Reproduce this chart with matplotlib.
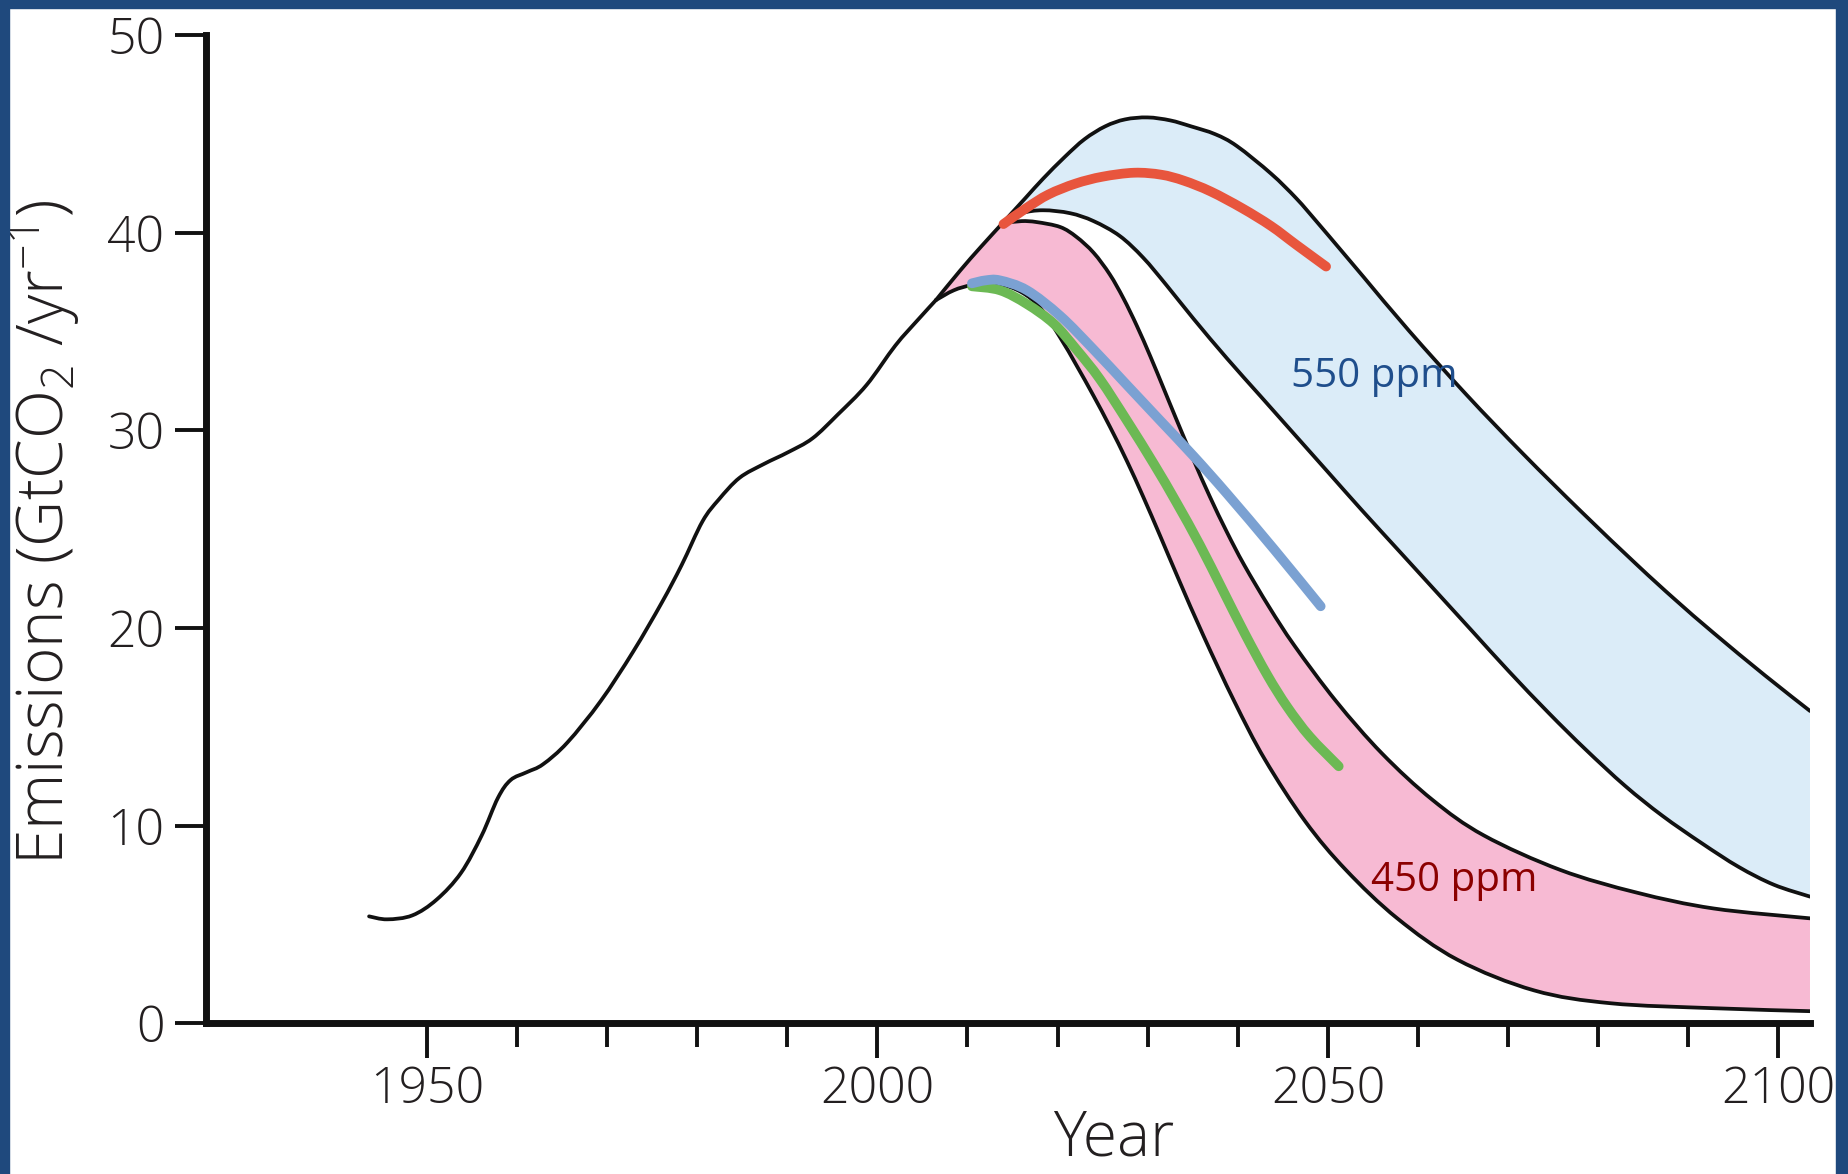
import numpy as np
import matplotlib
matplotlib.use("Agg")
import matplotlib.pyplot as plt
from matplotlib.patches import Rectangle, PathPatch
from matplotlib.path import Path
from matplotlib.ticker import FixedLocator

plt.rcParams['font.family'] = ['Open Sans', 'DejaVu Sans']
plt.rcParams['mathtext.fontset'] = 'custom'
plt.rcParams['mathtext.rm'] = 'Open Sans'
plt.rcParams['mathtext.it'] = 'Open Sans'
plt.rcParams['mathtext.default'] = 'regular'

# historical emissions
hist_year = [1943.6, 1945.6, 1948.4, 1951.1, 1953.8, 1956.1, 1957.9, 1959.3, 1961.1, 1962.9,
             1965.6, 1969.3, 1972.9, 1976.1, 1978.3, 1980.6, 1982.4, 1984.7, 1987.4, 1990.1,
             1992.8, 1995.6, 1998.8, 2002.0, 2004.5, 2006.5]
hist_val = [5.4, 5.25, 5.45, 6.25, 7.6, 9.5, 11.4, 12.3, 12.7, 13.1,
            14.2, 16.3, 18.8, 21.3, 23.2, 25.4, 26.5, 27.6, 28.3, 28.9,
            29.6, 30.8, 32.3, 34.3, 35.6, 36.6]

# 550 ppm band
up550_year = [2006.5, 2009.2, 2011.5, 2014, 2016.5, 2018.4, 2020.8, 2023, 2025.3, 2027.5,
              2030, 2032.5, 2034.8, 2037.5, 2039.9, 2043.7, 2046.5, 2048.8, 2051.5, 2054,
              2059, 2065.4, 2071.7, 2078.1, 2084.3, 2088.5, 2092.8, 2098.5, 2103.5]
up550_val = [36.6, 38.1, 39.3, 40.55, 41.8, 42.75, 43.85, 44.75, 45.4, 45.75,
             45.85, 45.7, 45.4, 45.0, 44.4, 43.0, 41.75, 40.55, 39.1, 37.75,
             35.05, 31.8, 28.8, 25.9, 23.2, 21.45, 19.75, 17.6, 15.8]
lo550_year = [2014, 2016, 2018.4, 2021.4, 2024, 2026.9, 2029.5, 2032.1, 2035.1, 2038.8,
              2042.5, 2046.2, 2050, 2053.7, 2058, 2061.6, 2066, 2070.1, 2074.5, 2078.6,
              2083, 2087.1, 2091.5, 2095.6, 2099.5, 2103.5]
lo550_val = [40.55, 41.0, 41.15, 41.0, 40.6, 39.85, 38.75, 37.35, 35.65, 33.65,
             31.75, 29.85, 27.9, 26.0, 23.85, 22.05, 19.85, 17.8, 15.7, 13.85,
             12.0, 10.5, 9.1, 7.9, 7.0, 6.4]

# 450 ppm band
up450_year = [2014, 2016, 2017.7, 2020.3, 2022.1, 2024, 2025.8, 2027.3, 2028.8, 2030.3,
              2031.8, 2033.2, 2035.1, 2036.9, 2038.8, 2040.7, 2043.5, 2046.3, 2050.9, 2056,
              2061.6, 2067.3, 2075.8, 2084.3, 2092.8, 2103.5]
up450_val = [40.5, 40.6, 40.55, 40.3, 39.8, 39.0, 37.9, 36.7, 35.3, 33.75,
             32.1, 30.55, 28.5, 26.65, 24.85, 23.2, 21.05, 19.1, 16.3, 13.65,
             11.3, 9.5, 7.75, 6.6, 5.8, 5.3]
lo450_year = [2006.5, 2008.5, 2010.5, 2013.5, 2016, 2018.1, 2020.3, 2022.1, 2024, 2025.8,
              2027.7, 2029.5, 2031.4, 2033.5, 2036.2, 2039.6, 2043, 2047.5, 2052, 2057.7,
              2064.4, 2072.9, 2081.4, 2092.8, 2103.5]
lo450_val = [36.6, 37.1, 37.35, 37.4, 37.0, 36.2, 34.7, 33.3, 31.75, 30.2,
             28.45, 26.65, 24.65, 22.4, 19.6, 16.3, 13.35, 10.2, 7.75, 5.3,
             3.2, 1.65, 1.0, 0.75, 0.6]

# pathway lines
red_year = [2014, 2016.5, 2019, 2022, 2025, 2028.5, 2031.5, 2034, 2037, 2040.5, 2043.7, 2046.5, 2049.8]
red_val = [40.45, 41.25, 41.95, 42.5, 42.85, 43.05, 42.95, 42.65, 42.1, 41.25, 40.35, 39.4, 38.3]
blue_year = [2010.5, 2012, 2013.6, 2016.6, 2020.3, 2024, 2027.7, 2031.4, 2035.1, 2038.8, 2044, 2049.2]
blue_val = [37.45, 37.6, 37.6, 37.1, 35.8, 34.1, 32.3, 30.5, 28.7, 26.8, 24.0, 21.1]
green_year = [2010.5, 2013.6, 2016.6, 2019.6, 2022.1, 2024.7, 2027.7, 2030.7, 2033.2, 2035.8,
              2038.3, 2040.8, 2043.3, 2045.5, 2048, 2051.2]
green_val = [37.3, 37.1, 36.4, 35.4, 34.1, 32.6, 30.5, 28.3, 26.35, 24.2,
             21.95, 19.7, 17.6, 16.0, 14.5, 13.0]

xticks_major = [1950, 2000, 2050, 2100]
xticks_minor = [1960, 1970, 1980, 1990, 2010, 2020, 2030, 2040, 2060, 2070, 2080, 2090]
yticks = [0, 10, 20, 30, 40, 50]


def bez(xs, ys):
    # smooth curve through the given points (Catmull-Rom as Bezier pieces)
    p = np.column_stack([xs, ys]).astype(float)
    verts = [p[0]]
    for i in range(len(p) - 1):
        a = p[i - 1] if i > 0 else p[i]
        d = p[i + 2] if i + 2 < len(p) else p[i + 1]
        verts += [p[i] + (p[i + 1] - a) / 6, p[i + 1] - (d - p[i]) / 6, p[i + 1]]
    return verts


def curve(ax, xs, ys, **kw):
    v = bez(xs, ys)
    codes = [Path.MOVETO] + [Path.CURVE4] * (len(v) - 1)
    ax.add_patch(PathPatch(Path(v, codes), fill=False, **kw))


def band(ax, pieces, **kw):
    verts, codes = [], []
    for xs, ys in pieces:
        v = bez(xs, ys)
        verts += v
        codes += [Path.MOVETO if not codes else Path.LINETO] + [Path.CURVE4] * (len(v) - 1)
    verts.append(verts[0])
    codes.append(Path.CLOSEPOLY)
    ax.add_patch(PathPatch(Path(verts, codes), lw=0, **kw))


fig = plt.figure(figsize=(18.49, 11.74), dpi=100)
ax = fig.add_axes([0.1114, 0.1286, 0.8675, 0.8412])

n = up550_year.index(up450_year[0]) + 1
band(ax, [(lo450_year, lo450_val), (up450_year[::-1], up450_val[::-1]),
          (up550_year[:n][::-1], up550_val[:n][::-1])], color='#f7bad3', zorder=1)
m = up550_year.index(lo550_year[0])
band(ax, [(up550_year[m:], up550_val[m:]), (lo550_year[::-1], lo550_val[::-1])],
     color='#dbecf8', zorder=1)

kw = dict(edgecolor='#111111', lw=2.7, capstyle='round', joinstyle='round', zorder=3)
curve(ax, hist_year, hist_val, **kw)
curve(ax, up550_year, up550_val, **kw)
curve(ax, lo550_year, lo550_val, **kw)
curve(ax, up450_year, up450_val, **kw)
curve(ax, lo450_year, lo450_val, **kw)

ckw = dict(lw=7, capstyle='round', joinstyle='round')
curve(ax, green_year, green_val, edgecolor='#6cb954', zorder=4, **ckw)
curve(ax, blue_year, blue_val, edgecolor='#7ba1d2', zorder=5, **ckw)
curve(ax, red_year, red_val, edgecolor='#e8553d', zorder=5, **ckw)

ax.text(2045.9, 32.7, '550 ppm', color='#1f4e8c', fontsize=29, va='center', ha='left', zorder=6)
ax.text(2054.8, 7.2, '450 ppm', color='#8b0000', fontsize=29, va='center', ha='left', zorder=6)

ax.set_xlim(1925.5, 2103.5)
ax.set_ylim(0, 50)
for s in ['top', 'right']:
    ax.spines[s].set_visible(False)
for s in ['left', 'bottom']:
    ax.spines[s].set_linewidth(5)
    ax.spines[s].set_color('#111111')
    ax.spines[s].set_capstyle('projecting')

ax.set_yticks(yticks)
ax.xaxis.set_major_locator(FixedLocator(xticks_major))
ax.xaxis.set_minor_locator(FixedLocator(xticks_minor))
ax.tick_params(axis='y', direction='out', length=22, width=2.8, pad=8,
               labelsize=36, colors='#111111', labelcolor='#231f20')
ax.tick_params(axis='x', which='major', direction='out', length=25, width=2.8, pad=5,
               labelsize=36, colors='#111111', labelcolor='#231f20')
ax.tick_params(axis='x', which='minor', direction='out', length=17, width=2.8, colors='#111111')
for lbl in ax.get_xticklabels() + ax.get_yticklabels():
    lbl.set_fontweight('light')

ax.text(0.566, -0.117, 'Year', transform=ax.transAxes, ha='center', va='center',
        fontsize=45, color='#231f20', fontweight='light')
ax.text(-0.101, 0.497, 'Emissions (GtCO$_2$ /yr$^{-1}$)', transform=ax.transAxes,
        ha='center', va='center', rotation=90, fontsize=46, color='#231f20', fontweight='light')

# blue frame
frame = '#1f497d'
fig.patches.append(Rectangle((0, 0), 9 / 1849, 1, transform=fig.transFigure,
                             color=frame, zorder=10))
fig.patches.append(Rectangle((0, 1 - 8 / 1174), 1, 8 / 1174, transform=fig.transFigure,
                             color=frame, zorder=10))
fig.patches.append(Rectangle((1 - 13 / 1849, 0), 13 / 1849, 1, transform=fig.transFigure,
                             color=frame, zorder=10))

fig.savefig('out.png', dpi=100, facecolor='white')
